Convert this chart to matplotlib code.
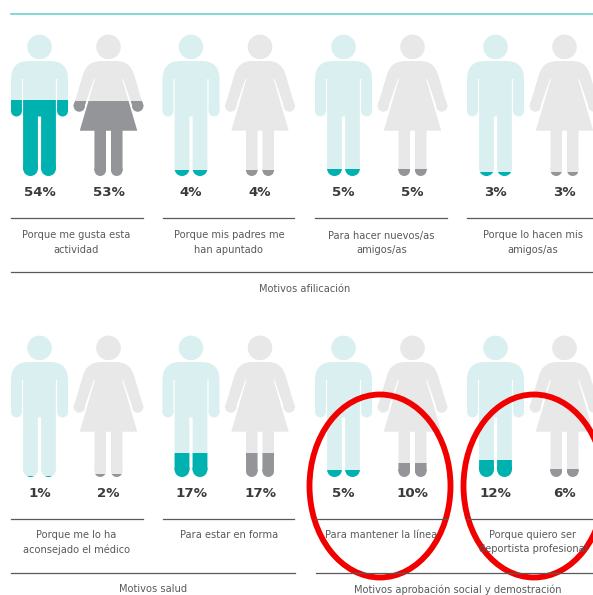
import numpy as np
import matplotlib
matplotlib.use("Agg")
import matplotlib.pyplot as plt
from matplotlib.path import Path
from matplotlib.patches import PathPatch, Ellipse

# =========================
# Data
# =========================
labels_row1 = ["Porque me gusta esta\nactividad", "Porque mis padres me\nhan apuntado",
               "Para hacer nuevos/as\namigos/as", "Porque lo hacen mis\namigos/as"]
men_row1 = [54, 4, 5, 3]
women_row1 = [53, 4, 5, 3]

labels_row2 = ["Porque me lo ha\naconsejado el médico", "Para estar en forma",
               "Para mantener la línea", "Porque quiero ser\ndeportista profesional"]
men_row2 = [1, 17, 5, 12]
women_row2 = [2, 17, 10, 6]

group_row1 = "Motivos afilicación"
groups_row2 = ["Motivos salud", "Motivos aprobación social y demostración"]

# =========================
# Colours and layout (pixels)
# =========================
TEAL, TEAL_LIGHT = "#00b2af", "#daf0f0"
GREY, GREY_LIGHT = "#939598", "#e8e8e8"
LINE = "#58595b"
TEXT = "#58595b"
FIG_H = 141          # height of a figure, head to feet
MEN_X = [39.5, 191, 343.5, 495.5]
WOMAN_DX = 69
TEXT_X = [76.5, 229, 381.5, 533]


def rounded(points, radii):
    # closed polygon with rounded corners, as (verts, codes)
    verts, codes = [], []
    n = len(points)
    for i in range(n):
        p = np.array(points[i], float)
        a = np.array(points[i - 1], float)
        b = np.array(points[(i + 1) % n], float)
        r = radii[i]
        d1 = (a - p) / np.linalg.norm(a - p)
        d2 = (b - p) / np.linalg.norm(b - p)
        p1, p2 = p + d1 * r, p + d2 * r
        verts += [p1, p, p2]
        codes += [Path.LINETO if i else Path.MOVETO, Path.CURVE3, Path.CURVE3]
    verts.append(verts[0])
    codes.append(Path.CLOSEPOLY)
    return verts, codes


def circle(cx, cy, r):
    c = Path.circle((cx, cy), r)
    return list(c.vertices), list(c.codes)


def join(parts):
    verts, codes = [], []
    for v, c in parts:
        verts += list(v)
        codes += list(c)
    return Path(np.array(verts), codes)


def mirror(half):
    # half is listed down the right side, the left side mirrors it
    pts = [p for p, r in half] + [(-p[0], p[1]) for p, r in reversed(half)]
    rad = [r for p, r in half] + [r for p, r in reversed(half)]
    return pts, rad


man_half = [((28.5, 26), 18), ((28.5, 76), 0), ((17.6, 76), 0), ((17.6, 44), 0),
            ((16.4, 44), 0), ((16.4, 133.6), 0), ((1.6, 133.6), 0), ((1.6, 81.5), 0)]
woman_half = [((21.5, 26), 14), ((34.9, 71), 0), ((23.9, 71), 0), ((14.6, 44), 0),
              ((13.6, 44), 0), ((28.7, 95.7), 0), ((14, 95.7), 0), ((14, 135.2), 0),
              ((2.5, 135.2), 0), ((2.5, 95.7), 0)]

# round hands and feet are circles on the ends of the outline
man_path = join([circle(0, 11.9, 12.3), rounded(*mirror(man_half)),
                 circle(23.05, 76, 5.45), circle(-23.05, 76, 5.45),
                 circle(9, 133.6, 7.4), circle(-9, 133.6, 7.4)])
woman_path = join([circle(0, 11.9, 12.3), rounded(*mirror(woman_half)),
                   circle(29.2, 71, 5.7), circle(-29.2, 71, 5.7),
                   circle(8.25, 135.2, 5.75), circle(-8.25, 135.2, 5.75)])

# =========================
# Figure
# =========================
plt.rcParams['font.family'] = ['DejaVu Sans']
fig = plt.figure(figsize=(5.93, 5.95), dpi=100)
ax = fig.add_axes([0, 0, 1, 1])
ax.set_xlim(0, 593)
ax.set_ylim(595, 0)
ax.axis("off")


def person(path, cx, top, value, light, dark):
    # light silhouette, then a bar rising from the feet clipped to it
    shape = PathPatch(path.transformed(matplotlib.transforms.Affine2D().translate(cx, top)),
                      facecolor=light, edgecolor="none", transform=ax.transData)
    ax.add_patch(shape)
    foot = top + FIG_H
    bar = ax.bar(cx, value / 100 * FIG_H, bottom=foot - value / 100 * FIG_H,
                 width=90, color=dark, linewidth=0)[0]
    bar.set_clip_path(shape)
    ax.text(cx, top + FIG_H + 16.6, f"{value}%", ha="center", va="center", fontsize=9.6,
            fontweight="bold", color="#3a3a3c")


def row(men, women, labels, top, y_rule, y_text):
    for i in range(4):
        person(man_path, MEN_X[i], top, men[i], TEAL_LIGHT, TEAL)
        person(woman_path, MEN_X[i] + WOMAN_DX, top, women[i], GREY_LIGHT, GREY)
        x0 = MEN_X[i] - 28.5
        ax.plot([x0, min(x0 + 131.5, 593)], [y_rule, y_rule], color=LINE, lw=0.9)
        ax.text(TEXT_X[i], y_text, labels[i], ha="center", va="top", fontsize=7.1,
                color=TEXT, linespacing=1.55)


row(men_row1, women_row1, labels_row1, 35, 218, 230.5)
row(men_row2, women_row2, labels_row2, 336, 519, 530)

ax.plot([11, 593], [14, 14], color="#6fd0cb", lw=1.2)
ax.plot([11, 593], [272, 272], color=LINE, lw=0.9)
ax.plot([11, 295], [572.7, 572.7], color=LINE, lw=0.9)
ax.plot([316, 593], [572.7, 572.7], color=LINE, lw=0.9)

ax.text(305, 289, group_row1, ha="center", va="center", fontsize=7.1, color=TEXT)
ax.text(153, 589.5, groups_row2[0], ha="center", va="center", fontsize=7.1, color=TEXT)
ax.text(457.5, 589.5, groups_row2[1], ha="center", va="center", fontsize=7.1, color=TEXT)

# red hand-drawn circles on top
for cx in [380, 534]:
    ax.add_patch(Ellipse((cx, 486), 141, 183, facecolor="none", edgecolor="#f20000", lw=4.2))

fig.savefig("out.png", dpi=100)
